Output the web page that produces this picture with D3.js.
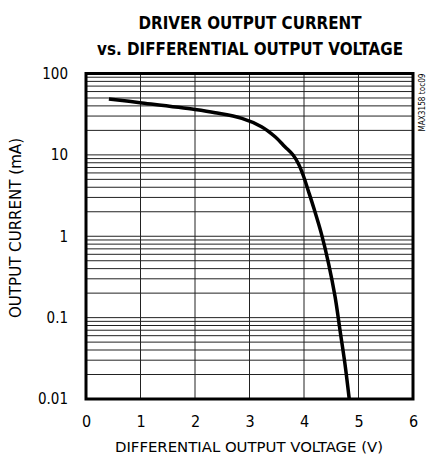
<!DOCTYPE html>
<html lang="en">
<head>
  <meta charset="utf-8">
  <title>Driver output current</title>
  <script src="https://d3js.org/d3.v7.min.js"></script>
  <style>
    body { margin: 0; background: #fff; }
    text { font-family: "Liberation Sans Narrow", "DejaVu Sans Condensed", "Roboto", sans-serif; fill: #000; }
  </style>
</head>
<body>
<div class="chart"></div>
<script>
  // curve: volts vs mA
  var volts = [0.42, 0.99, 2.0, 2.37, 2.86, 3.22, 3.47, 3.65, 3.80, 3.90, 3.99, 4.08, 4.18, 4.32, 4.45, 4.57, 4.66, 4.75, 4.83];
  var current = [48.6, 43.8, 36.1, 33.0, 28.1, 22.2, 16.7, 12.6, 9.97, 7.72, 5.50, 3.60, 2.22, 1.07, 0.465, 0.181, 0.0705, 0.0275, 0.01];

  var xTicks = [0, 1, 2, 3, 4, 5, 6];
  var yTicks = [0.01, 0.1, 1, 10, 100];
  var yTickLabels = ["0.01", "0.1", "1", "10", "100"];
  var titleLines = ["DRIVER OUTPUT CURRENT", "vs. DIFFERENTIAL OUTPUT VOLTAGE"];

  var W = 433, H = 456;
  var m = {left: 86, right: 20, top: 73.5, bottom: 57};

  var svg = d3.select(".chart").append("svg")
    .attr("width", W)
    .attr("height", H);

  var x = d3.scaleLinear().domain([0, 6]).range([m.left, W - m.right]);
  var y = d3.scaleLog().domain([0.01, 100]).range([H - m.bottom, m.top]);

  // grid: every log step plus the whole volts
  svg.append("g").selectAll("line.h")
    .data(y.ticks())
    .enter().append("line")
      .attr("x1", x(0)).attr("x2", x(6))
      .attr("y1", function(d){ return y(d); })
      .attr("y2", function(d){ return y(d); })
      .style("stroke", "#222")
      .style("stroke-width", 1);

  svg.append("g").selectAll("line.v")
    .data(xTicks.slice(1, -1))
    .enter().append("line")
      .attr("x1", function(d){ return x(d); })
      .attr("x2", function(d){ return x(d); })
      .attr("y1", y(0.01)).attr("y2", y(100))
      .style("stroke", "#222")
      .style("stroke-width", 1);

  // the curve
  var pts = volts.map(function(v, i){ return [v, current[i]]; });
  var line = d3.line()
    .x(function(d){ return x(d[0]); })
    .y(function(d){ return y(d[1]); })
    .curve(d3.curveCatmullRom.alpha(0.5));

  svg.append("path")
    .datum(pts)
    .attr("d", line)
    .style("fill", "none")
    .style("stroke", "#000")
    .style("stroke-width", 3.5)
    .style("stroke-linejoin", "round");

  // frame
  svg.append("rect")
    .attr("x", x(0)).attr("y", y(100))
    .attr("width", x(6) - x(0))
    .attr("height", y(0.01) - y(100))
    .style("fill", "none")
    .style("stroke", "#000")
    .style("stroke-width", 3);

  // axes
  var xAxis = svg.append("g")
    .attr("transform", "translate(0," + (y(0.01)) + ")")
    .call(d3.axisBottom(x).tickValues(xTicks).tickSize(0).tickPadding(17)
      .tickFormat(d3.format("d")));
  xAxis.select(".domain").remove();
  xAxis.selectAll("text").style("font-size", "16px");

  var yAxis = svg.append("g")
    .attr("transform", "translate(" + x(0) + ",0)")
    .call(d3.axisLeft(y).tickValues(yTicks).tickSize(0).tickPadding(18)
      .tickFormat(function(d, i){ return yTickLabels[i]; }));
  yAxis.select(".domain").remove();
  yAxis.selectAll("text").style("font-size", "15px");

  // titles
  svg.selectAll("text.title")
    .data(titleLines)
    .enter().append("text")
      .attr("class", "title")
      .attr("x", 250)
      .attr("y", function(d, i){ return 29 + i * 26; })
      .attr("text-anchor", "middle")
      .attr("textLength", function(d, i){ return i ? 306 : 223; })
      .attr("lengthAdjust", "spacingAndGlyphs")
      .style("font-size", "18px")
      .style("font-weight", "bold")
      .text(function(d){ return d; });

  svg.append("text")
    .attr("x", 249)
    .attr("y", 452)
    .attr("text-anchor", "middle")
    .attr("textLength", 268)
    .attr("lengthAdjust", "spacingAndGlyphs")
    .style("font-size", "14px")
    .text("DIFFERENTIAL OUTPUT VOLTAGE (V)");

  svg.append("text")
    .attr("transform", "translate(21,228) rotate(-90)")
    .attr("text-anchor", "middle")
    .attr("textLength", 180)
    .attr("lengthAdjust", "spacingAndGlyphs")
    .style("font-size", "15px")
    .text("OUTPUT CURRENT (mA)");

  svg.append("text")
    .attr("transform", "translate(425,102.5) rotate(-90)")
    .attr("text-anchor", "middle")
    .attr("textLength", 58)
    .attr("lengthAdjust", "spacingAndGlyphs")
    .style("font-size", "8px")
    .text("MAX3158 toc09");
</script>
</body>
</html>
